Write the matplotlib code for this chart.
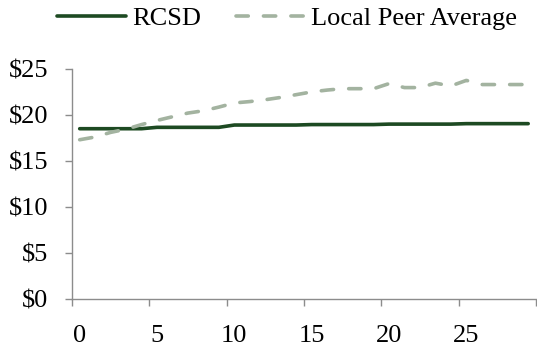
import matplotlib

matplotlib.use("Agg")
import matplotlib.pyplot as plt
import numpy as np

# per-category values
years = list(range(30))
rcsd = [18.5] * 5 + [18.65] * 5 + [18.9] * 5 + [18.95] * 5 + [19.0] * 5 + [19.05] * 5
peer_avg = [17.3, 17.6, 18.1, 18.45, 18.95, 19.4, 19.8, 20.2, 20.45, 20.85,
            21.3, 21.45, 21.65, 21.9, 22.2, 22.5, 22.7, 22.85, 22.85, 22.85,
            23.4, 22.97, 22.97, 23.45, 23.15, 23.75, 23.3, 23.3, 23.3, 23.3]
y_ticks = [0, 5, 10, 15, 20, 25]
x_labels = [0, 5, 10, 15, 20, 25]

plt.rcParams["font.family"] = ["Liberation Serif", "DejaVu Serif"]
plt.rcParams["font.size"] = 19

DARK = "#1d4a22"
LIGHT = "#a3b3a0"
AXIS = "#8c8c8c"

fig = plt.figure(figsize=(5.37, 3.48), dpi=100)
ax = fig.add_axes([0.134, 0.141, 0.864, 0.661])

ax.plot(years, rcsd, color=DARK, lw=2.6, solid_capstyle="round", label="RCSD")
ax.plot(years, peer_avg, color=LIGHT, lw=2.6, dashes=(3.4, 4.2),
        dash_capstyle="round", label="Local Peer Average")

ax.set_xlim(-0.5, 29.5)
ax.set_ylim(0, 25)
ax.set_yticks(y_ticks)
ax.set_yticklabels([f"${v}" for v in y_ticks])

# ticks sit on category boundaries, labels in category centres
ax.set_xticks(np.arange(-0.5, 30, 5))
ax.set_xticklabels([])
ax.set_xticks(x_labels, minor=True)
ax.set_xticklabels([str(v) for v in x_labels], minor=True)
ax.tick_params(axis="x", which="major", length=5, width=1, color=AXIS, direction="out")
ax.tick_params(axis="x", which="minor", length=0, pad=19)
ax.tick_params(axis="y", length=5, width=1, color=AXIS, direction="out", pad=12)

ax.spines[["top", "right"]].set_visible(False)
for s in ("left", "bottom"):
    ax.spines[s].set_color(AXIS)
    ax.spines[s].set_linewidth(1)

fig.legend(loc="center", bbox_to_anchor=(0.535, 0.948), ncol=2, frameon=False,
           handlelength=2.6, handletextpad=0.25, columnspacing=1.3,
           borderpad=0, borderaxespad=0)

fig.savefig("out.png", dpi=100)
